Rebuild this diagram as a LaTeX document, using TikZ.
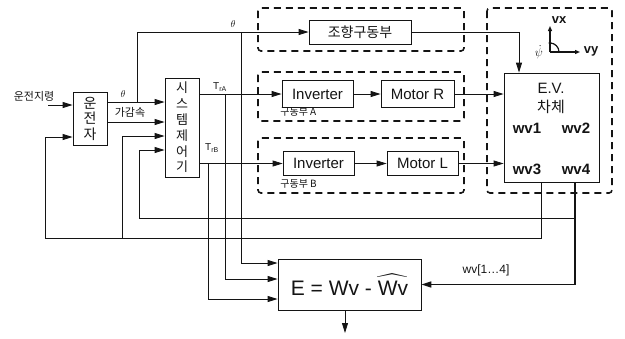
\documentclass[tikz,border=0pt]{standalone}
\usepackage{amsmath}
\usepackage{fontspec}
\setmainfont{Liberation Sans}
\newfontfamily\kr{Noto Sans CJK KR}
\usetikzlibrary{arrows.meta,positioning,calc}
\definecolor{inkDark}{RGB}{20, 20, 20}

\begin{document}
\begin{tikzpicture}[x=1pt, y=-1pt, line width=0.8pt, color=inkDark,
    unitbox/.style={draw, rectangle, inner sep=0pt, align=center, font=\fontsize{15}{17}\selectfont},
    groupframe/.style={dash pattern=on 7pt off 5pt, line width=1.6pt, rounded corners=3pt},
    flow/.style={-{Triangle[length=10pt,width=6pt]}},
    axarrow/.style={-{Triangle[length=5pt,width=4pt]}},
    tag/.style={inner sep=0pt, font=\fontsize{10}{12}\selectfont},
    wvtag/.style={inner sep=0pt, font=\fontsize{15}{17}\selectfont\bfseries}]
\useasboundingbox (0,0) rectangle (625,338);

\draw[groupframe] (258,8) rectangle (464,51);
\draw[groupframe] (258,72) rectangle (464,121);
\draw[groupframe] (258,138) rectangle (464,193);
\draw[groupframe] (487,8) rectangle (612,193);

\node[unitbox, minimum width=34pt, minimum height=53pt, font=\kr\fontsize{14}{15.5}\selectfont] (drv) at (90,118.5) {운\\전\\자};
\node[unitbox, minimum width=34pt, minimum height=99pt, font=\kr\fontsize{13}{15.8}\selectfont] (sys) at (182,127.5) {시\\스\\템\\제\\어\\기};
\node[unitbox, minimum width=102pt, minimum height=24pt, font=\kr\fontsize{14}{16}\selectfont] (steer) at (360,32) {조향구동부};
\node[unitbox, minimum width=71pt, minimum height=27pt] (invA) at (317.5,94) {Inverter};
\node[unitbox, minimum width=73pt, minimum height=27pt] (motR) at (417.5,94) {Motor R};
\node[unitbox, minimum width=71pt, minimum height=24pt] (invB) at (318.5,163.5) {Inverter};
\node[unitbox, minimum width=71pt, minimum height=24pt] (motL) at (422.5,163.5) {Motor L};
\node[unitbox, minimum width=95pt, minimum height=109pt] (EV) at (551.5,127.5) {};
\node[unitbox, minimum width=143pt, minimum height=51pt, font=\fontsize{21}{25}\selectfont] (E) at (349.5,284.5) {E = Wv - $\widehat{\text{Wv}}$};

\node[tag, font=\kr\fontsize{11}{13}\selectfont] (cmd) at (34,96) {운전지령};
\node[tag, font=\kr\fontsize{11}{13}\selectfont] (accel) at (130,112) {가감속};
\node[tag] (thDrv) at (123,94) {$\theta$};
\node[tag] (thTop) at (233,24) {$\theta$};
\node[tag] (trA) at (220,87) {T\textsubscript{rA}};
\node[tag] (trB) at (212,148) {T\textsubscript{rB}};
\node[tag, anchor=west, font=\kr\fontsize{10}{12}\selectfont] (grpA) at (280,112) {구동부 A};
\node[tag, anchor=west, font=\kr\fontsize{10}{12}\selectfont] (grpB) at (280,184) {구동부 B};
\node[tag, font=\fontsize{15}{17}\selectfont] (evName) at (551,88) {E.V.};
\node[tag, font=\kr\fontsize{15}{17}\selectfont] (evBody) at (551,107) {차체};
\node[wvtag] (wv1) at (527,128) {wv1};
\node[wvtag] (wv2) at (576,128) {wv2};
\node[wvtag] (wv3) at (527,169) {wv3};
\node[wvtag] (wv4) at (576,169) {wv4};
\node[tag, font=\fontsize{12}{14}\selectfont] (wvAll) at (486,270) {wv[1\ldots4]};

\coordinate (cmdTail) at (48,105);
\draw[flow] (cmdTail) -- (drv.west |- cmdTail);
\draw[flow] (drv.east |- 0,102) -- (sys.west |- 0,102);
\draw[flow] (drv.east |- 0,122) -- (sys.west |- 0,122);
\draw[flow] (137,102) |- (steer.west);
\draw[flow] (241,32) |- (E.west |- 0,263);
\draw[flow] (sys.east |- invA.west) -- (invA.west);
\draw[flow] (225,94) |- (E.west |- 0,279);
\draw[flow] (sys.east |- invB.west) -- (invB.west);
\draw[flow] (208,163.5) |- (E.west |- 0,299);
\draw[flow] (invA) -- (motR);
\draw[flow] (invB) -- (motL);
\draw[flow] (motR.east) -- (EV.west |- motR.east);
\draw[flow] (motL.east) -- (EV.west |- motL.east);
\draw[flow] (steer.east) -| (EV.north -| 519,0);
\draw[flow] (EV.south -| 541,0) |- (45,238) |- (drv.west |- 0,137);
\draw[flow] (122,238) |- (sys.west |- 0,136);
\draw[flow, line width=1.5pt] (EV.south -| 575,0) |- (E.east);
\draw[flow] (575,218) -| (139,150) -- (sys.west |- 0,150);
\draw[flow] (E.south -| 345,0) -- (345,333);

\coordinate (axO) at (550,52);
\draw[axarrow, line width=1.2pt] (axO) -- (550,26);
\draw[axarrow, line width=1.2pt] (axO) -- (580,52);
\draw[line width=1.2pt] (550,43) arc[start angle=-90, end angle=0, radius=9];
\fill (550,43) circle[radius=1.6];
\node[tag, font=\fontsize{13}{15}\selectfont\bfseries] (vx) at (559,20) {vx};
\node[tag, font=\fontsize{13}{15}\selectfont\bfseries] (vy) at (591,51) {vy};
\node[tag, font=\fontsize{12}{14}\selectfont] (psi) at (539,52) {$\dot{\psi}$};
\end{tikzpicture}
\end{document}
